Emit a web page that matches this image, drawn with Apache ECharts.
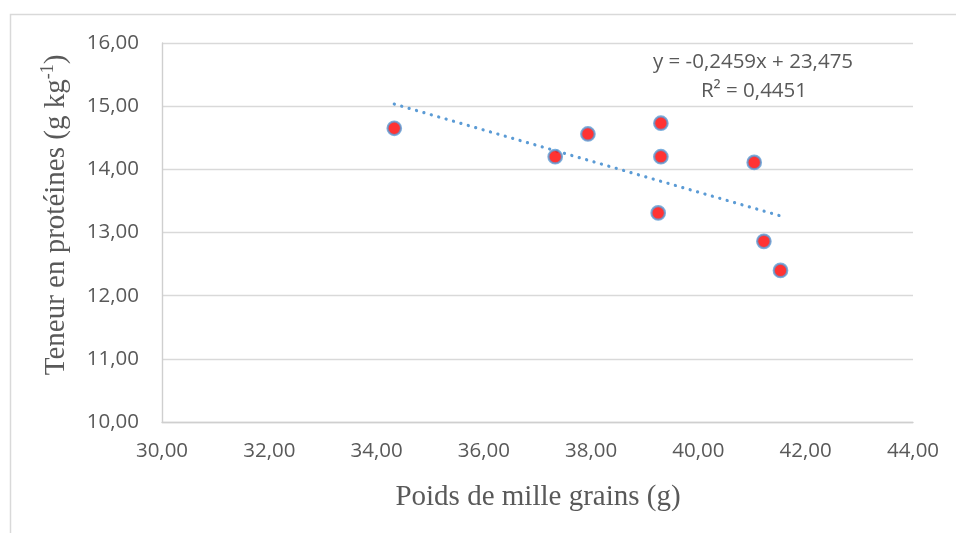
<!DOCTYPE html>
<html>
<head>
<meta charset="utf-8">
<script src="https://cdn.jsdelivr.net/npm/echarts@6/dist/echarts.min.js"></script>
<style>
  html, body { margin: 0; padding: 0; background: #ffffff; }
  #chart { width: 956px; height: 533px; }
</style>
</head>
<body>
<div id="chart"></div>
<script>
// Poids de mille grains (g) et teneur en protéines (g kg-1) par échantillon
const poids = [34.33, 37.33, 37.94, 39.30, 39.30, 39.25, 41.04, 41.22, 41.53];
const proteines = [14.65, 14.20, 14.56, 14.73, 14.20, 13.31, 14.11, 12.86, 12.40];

// Droite de régression linéaire
const pente = -0.2459;
const ordonnee = 23.475;
const r2 = 0.4451;

// Bornes des axes
const xAxisRange = [30, 44, 2];
const yAxisRange = [10, 16, 1];

const fmt = (v, d) => v.toFixed(d).replace('.', ',');

const points = poids.map((x, i) => [x, proteines[i]]);
const xMin = Math.min(...poids);
const xMax = Math.max(...poids);
const tendance = [[xMin, pente * xMin + ordonnee], [xMax, pente * xMax + ordonnee]];

const labelFont = '"Open Sans", "Liberation Sans", sans-serif';
const titleFont = '"Liberation Serif", "Times New Roman", serif';
const grey = '#595959';

const chart = echarts.init(document.getElementById('chart'), null, { renderer: 'canvas' });

chart.setOption({
  animation: false,
  backgroundColor: '#ffffff',
  grid: { left: 162, top: 43, right: 43, bottom: 111, containLabel: false },
  xAxis: {
    type: 'value',
    min: xAxisRange[0], max: xAxisRange[1], interval: xAxisRange[2],
    axisLine: { show: true, lineStyle: { color: '#cfcfcf', width: 1.4 } },
    axisTick: { show: false },
    splitLine: { show: false },
    axisLabel: {
      color: grey, fontFamily: labelFont, fontSize: 20.5, margin: 19,
      formatter: v => fmt(v, 2)
    }
  },
  yAxis: {
    type: 'value',
    min: yAxisRange[0], max: yAxisRange[1], interval: yAxisRange[2],
    axisLine: { show: true, lineStyle: { color: '#cfcfcf', width: 1.4 } },
    axisTick: { show: false },
    splitLine: { show: true, lineStyle: { color: '#d9d9d9', width: 1.4 } },
    axisLabel: {
      color: grey, fontFamily: labelFont, fontSize: 20.5, margin: 23,
      formatter: v => fmt(v, 2)
    }
  },
  series: [
    {
      type: 'line',
      data: tendance,
      symbol: 'none',
      silent: true,
      z: 2,
      lineStyle: { color: '#5b9bd5', width: 3.2, type: [0.1, 7.6], cap: 'round' }
    },
    {
      type: 'scatter',
      data: points,
      symbol: 'circle',
      symbolSize: 13.5,
      z: 3,
      itemStyle: { color: '#ff0000', borderColor: '#5b9bd5', borderWidth: 2.2 }
    }
  ],
  graphic: [
    {
      type: 'rect', silent: true, z: -1,
      shape: { x: 10.5, y: 14.5, width: 1000, height: 600 },
      style: { fill: 'none', stroke: '#d9d9d9', lineWidth: 1.5 }
    },
    {
      type: 'text', x: 753, y: 62,
      style: {
        text: 'y = ' + fmt(pente, 4) + 'x + ' + fmt(ordonnee, 3),
        fill: grey, font: '20.5px ' + labelFont, align: 'center', verticalAlign: 'middle'
      }
    },
    {
      type: 'text', x: 754, y: 91,
      style: {
        text: 'R² = ' + fmt(r2, 4),
        fill: grey, font: '20.5px ' + labelFont, align: 'center', verticalAlign: 'middle'
      }
    },
    {
      type: 'text', x: 538, y: 497,
      style: {
        text: 'Poids de mille grains (g)',
        fill: grey, font: '29px ' + titleFont, align: 'center', verticalAlign: 'middle'
      }
    },
    {
      type: 'text', x: 56, y: 215, rotation: Math.PI / 2,
      style: {
        text: '{a|Teneur en protéines (g kg}{s|-1}{a|)}',
        align: 'center', verticalAlign: 'middle',
        rich: {
          a: { fill: grey, fontFamily: titleFont, fontSize: 29, lineHeight: 34 },
          s: { fill: grey, fontFamily: titleFont, fontSize: 18, lineHeight: 34, verticalAlign: 'top' }
        }
      }
    }
  ]
});
</script>
</body>
</html>
